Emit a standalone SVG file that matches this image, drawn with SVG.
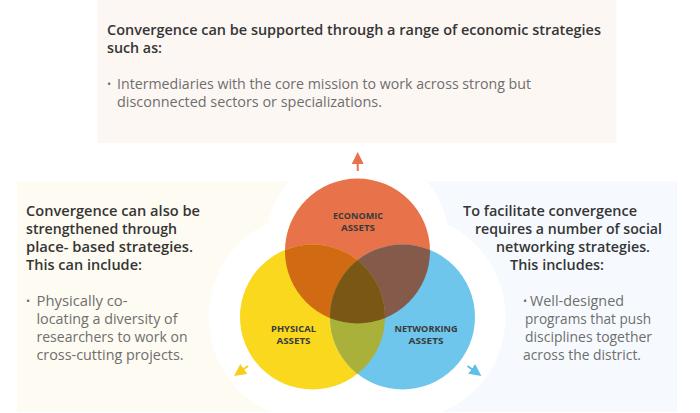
<svg xmlns="http://www.w3.org/2000/svg" width="700" height="413" viewBox="0 0 700 413">
<defs>
<style>
.h{font-family:"Open Sans",Lato,"Liberation Sans",sans-serif;font-weight:600;font-size:14px;fill:#353535}
.b{font-family:"Open Sans",Lato,"Liberation Sans",sans-serif;font-weight:400;font-size:14px;fill:#6e6e6e}
.dot{font-family:"Open Sans",Lato,"Liberation Sans",sans-serif;font-size:11px;fill:#6e6e6e}
.lab{font-family:"Open Sans",Lato,"Liberation Sans",sans-serif;font-weight:700;font-size:9.5px;fill:#3a3a3a;text-anchor:middle}
</style>
<clipPath id="cE"><circle cx="357.5" cy="251" r="72.5"/></clipPath>
<clipPath id="cP"><circle cx="312.5" cy="317" r="72.5"/></clipPath>
<marker id="ahO" viewBox="0 0 10 10" refX="5" refY="5" markerWidth="6" markerHeight="6" orient="auto"><path d="M0,0 L10,5 L0,10 z" fill="#e8724a"/></marker>
<marker id="ahY" viewBox="0 0 10 10" refX="5" refY="5" markerWidth="6" markerHeight="6" orient="auto"><path d="M0,0 L10,5 L0,10 z" fill="#f6cf1e"/></marker>
<marker id="ahB" viewBox="0 0 10 10" refX="5" refY="5" markerWidth="6" markerHeight="6" orient="auto"><path d="M0,0 L10,5 L0,10 z" fill="#5fbfe8"/></marker>
</defs>
<rect width="700" height="413" fill="#ffffff"/>
<g id="panels">
<rect x="97.5" y="0" width="519" height="143" fill="#fdf7f4"/>
<rect x="17" y="181" width="345" height="231" fill="#fefbf2"/>
<rect x="355" y="181" width="322" height="231" fill="#f6fafe"/>
</g>
<g id="blob" fill="#ffffff">
<circle cx="357.5" cy="240" r="91"/>
<circle cx="312.5" cy="317" r="104"/>
<circle cx="402.5" cy="317" r="103"/>
<rect x="330" y="380" width="55" height="33"/>
</g>
<g id="top-text">
<text class="h" x="107" y="35" textLength="494" lengthAdjust="spacingAndGlyphs">Convergence can be supported through a range of economic strategies</text>
<text class="h" x="107" y="53" textLength="55" lengthAdjust="spacingAndGlyphs">such as:</text>
<text class="dot" x="107" y="88">•</text>
<text class="b" x="117" y="89" textLength="414" lengthAdjust="spacingAndGlyphs">Intermediaries with the core mission to work across strong but</text>
<text class="b" x="117" y="107" textLength="265" lengthAdjust="spacingAndGlyphs">disconnected sectors or specializations.</text>
</g>
<g id="left-text">
<text class="h" x="26" y="216" textLength="174" lengthAdjust="spacingAndGlyphs">Convergence can also be</text>
<text class="h" x="26" y="234" textLength="151" lengthAdjust="spacingAndGlyphs">strengthened through</text>
<text class="h" x="26" y="252" textLength="167" lengthAdjust="spacingAndGlyphs">place- based strategies.</text>
<text class="h" x="26" y="270" textLength="116" lengthAdjust="spacingAndGlyphs">This can include:</text>
<text class="dot" x="26" y="305">•</text>
<text class="b" x="36.5" y="306" textLength="91" lengthAdjust="spacingAndGlyphs">Physically co-</text>
<text class="b" x="36.5" y="324" textLength="141" lengthAdjust="spacingAndGlyphs">locating a diversity of</text>
<text class="b" x="36.5" y="342" textLength="151" lengthAdjust="spacingAndGlyphs">researchers to work on</text>
<text class="b" x="36.5" y="360" textLength="147" lengthAdjust="spacingAndGlyphs">cross-cutting projects.</text>
</g>
<g id="right-text">
<text class="h" x="463" y="216" textLength="174" lengthAdjust="spacingAndGlyphs">To facilitate convergence</text>
<text class="h" x="475" y="234" textLength="187" lengthAdjust="spacingAndGlyphs">requires a number of social</text>
<text class="h" x="496" y="252" textLength="154" lengthAdjust="spacingAndGlyphs">networking strategies.</text>
<text class="h" x="510" y="270" textLength="94" lengthAdjust="spacingAndGlyphs">This includes:</text>
<text class="dot" x="523" y="305">•</text>
<text class="b" x="530" y="306" textLength="94" lengthAdjust="spacingAndGlyphs">Well-designed</text>
<text class="b" x="525" y="324" textLength="126" lengthAdjust="spacingAndGlyphs">programs that push</text>
<text class="b" x="525" y="342" textLength="127" lengthAdjust="spacingAndGlyphs">disciplines together</text>
<text class="b" x="523" y="360" textLength="118" lengthAdjust="spacingAndGlyphs">across the district.</text>
</g>
<g id="node-economic">
<circle cx="357.5" cy="251" r="72.5" fill="#e8724a"/>
</g>
<g id="node-physical">
<circle cx="312.5" cy="317" r="72.5" fill="#f9d81d"/>
</g>
<g id="node-networking">
<circle cx="402.5" cy="317" r="72.5" fill="#6ec6ec"/>
</g>
<g id="overlaps">
<g clip-path="url(#cE)"><circle cx="312.5" cy="317" r="72.5" fill="#d06b14"/><circle cx="402.5" cy="317" r="72.5" fill="#845b4a"/></g>
<g clip-path="url(#cP)"><circle cx="402.5" cy="317" r="72.5" fill="#a9b13b"/></g>
<g clip-path="url(#cE)"><g clip-path="url(#cP)"><circle cx="402.5" cy="317" r="72.5" fill="#7b5716"/></g></g>
</g>
<g id="labels">
<text class="lab" x="358" y="218.5" textLength="50" lengthAdjust="spacingAndGlyphs">ECONOMIC</text>
<text class="lab" x="358" y="231" textLength="34" lengthAdjust="spacingAndGlyphs">ASSETS</text>
<text class="lab" x="293.5" y="331.5" textLength="45" lengthAdjust="spacingAndGlyphs">PHYSICAL</text>
<text class="lab" x="293.5" y="344" textLength="34" lengthAdjust="spacingAndGlyphs">ASSETS</text>
<text class="lab" x="426" y="331.5" textLength="63" lengthAdjust="spacingAndGlyphs">NETWORKING</text>
<text class="lab" x="426" y="344" textLength="35" lengthAdjust="spacingAndGlyphs">ASSETS</text>
</g>
<g id="connectors" stroke-width="2" fill="none">
<line x1="357.7" y1="171" x2="357.7" y2="158" stroke="#e8724a" marker-end="url(#ahO)"/>
<line x1="248" y1="366" x2="239" y2="372.5" stroke="#f6cf1e" marker-end="url(#ahY)"/>
<line x1="467.5" y1="366" x2="476.5" y2="372.5" stroke="#5fbfe8" marker-end="url(#ahB)"/>
</g>
</svg>
